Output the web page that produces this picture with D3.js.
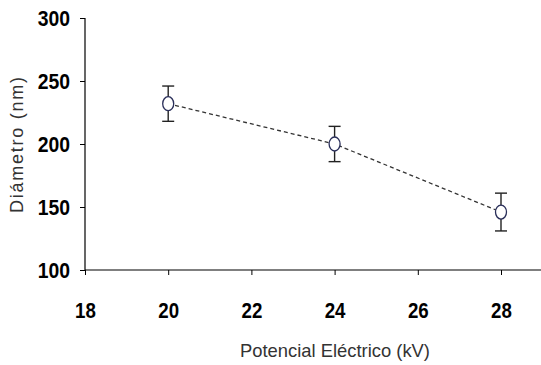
<!DOCTYPE html>
<html><head><meta charset="utf-8">
<script src="https://cdn.jsdelivr.net/npm/d3@7"></script>
<style>body{margin:0;background:#fff}svg{display:block}</style>
</head><body>
<script>
const voltages = [20, 24, 28];
const diameters = [232, 200, 146];
const errors = [14, 14, 15];
const xTicks = [18, 20, 22, 24, 26, 28];
const yTicks = [100, 150, 200, 250, 300];

const W = 541, H = 365;
const svg = d3.select("body").append("svg").attr("width", W).attr("height", H);
const x = d3.scaleLinear().domain([18, 28]).range([85, 501]);
const y = d3.scaleLinear().domain([100, 300]).range([270, 18]);

const tickFont = "'Liberation Sans','Arial',sans-serif";

function condense(sel, f) {
  sel.each(function () {
    const w = this.getComputedTextLength();
    d3.select(this).attr("textLength", w * f).attr("lengthAdjust", "spacingAndGlyphs");
  });
}

// y axis
const ya = svg.append("g").attr("transform", "translate(85,0)")
  .call(d3.axisLeft(y).tickValues(yTicks).tickSize(5).tickPadding(10));
ya.select(".domain").attr("d", `M0,${y(300)}V${y(100)}`).attr("stroke", "#000").attr("stroke-width", 1.2);
ya.selectAll("line").attr("stroke", "#000");
ya.selectAll("text").attr("font-family", tickFont).attr("font-weight", "bold").attr("font-size", 22).attr("fill", "#000");
condense(ya.selectAll("text"), 0.88);

// x axis
const xa = svg.append("g").attr("transform", `translate(0,${y(100)})`)
  .call(d3.axisBottom(x).tickValues(xTicks).tickSize(5).tickPadding(27));
xa.select(".domain").attr("d", `M${x(18)},0H${W}`).attr("stroke", "#000").attr("stroke-width", 1.2);
xa.selectAll("line").attr("stroke", "#000");
xa.selectAll("text").attr("font-family", tickFont).attr("font-weight", "bold").attr("font-size", 22).attr("fill", "#000");
condense(xa.selectAll("text"), 0.85);

// dashed line
const pts = voltages.map((v, i) => [x(v), y(diameters[i])]);
svg.append("path").attr("d", d3.line()(pts)).attr("fill", "none")
  .attr("stroke", "#333").attr("stroke-width", 1.3).attr("stroke-dasharray", "4,3");

// error bars
const eb = svg.append("g").attr("stroke", "#222").attr("stroke-width", 1.4);
voltages.forEach((v, i) => {
  const cx = x(v), t = y(diameters[i] + errors[i]), b = y(diameters[i] - errors[i]);
  eb.append("line").attr("x1", cx).attr("x2", cx).attr("y1", t).attr("y2", b);
  eb.append("line").attr("x1", cx - 6).attr("x2", cx + 6).attr("y1", t).attr("y2", t);
  eb.append("line").attr("x1", cx - 6).attr("x2", cx + 6).attr("y1", b).attr("y2", b);
});

// markers
svg.append("g").selectAll("ellipse").data(voltages).join("ellipse")
  .attr("cx", d => x(d)).attr("cy", (d, i) => y(diameters[i]))
  .attr("rx", 5.5).attr("ry", 7)
  .attr("fill", "#fff").attr("stroke", "#2a2f5a").attr("stroke-width", 1.3);

// titles
svg.append("text").attr("x", 335).attr("y", 357).attr("text-anchor", "middle")
  .attr("font-family", tickFont).attr("font-size", 19).attr("fill", "#333")
  .attr("textLength", 190).attr("lengthAdjust", "spacingAndGlyphs")
  .text("Potencial Eléctrico (kV)");
svg.append("text").attr("transform", "translate(23,145) rotate(-90)").attr("text-anchor", "middle")
  .attr("font-family", tickFont).attr("font-size", 18).attr("fill", "#333")
  .attr("textLength", 136).attr("lengthAdjust", "spacing")
  .text("Diámetro (nm)");
</script>
</body></html>
